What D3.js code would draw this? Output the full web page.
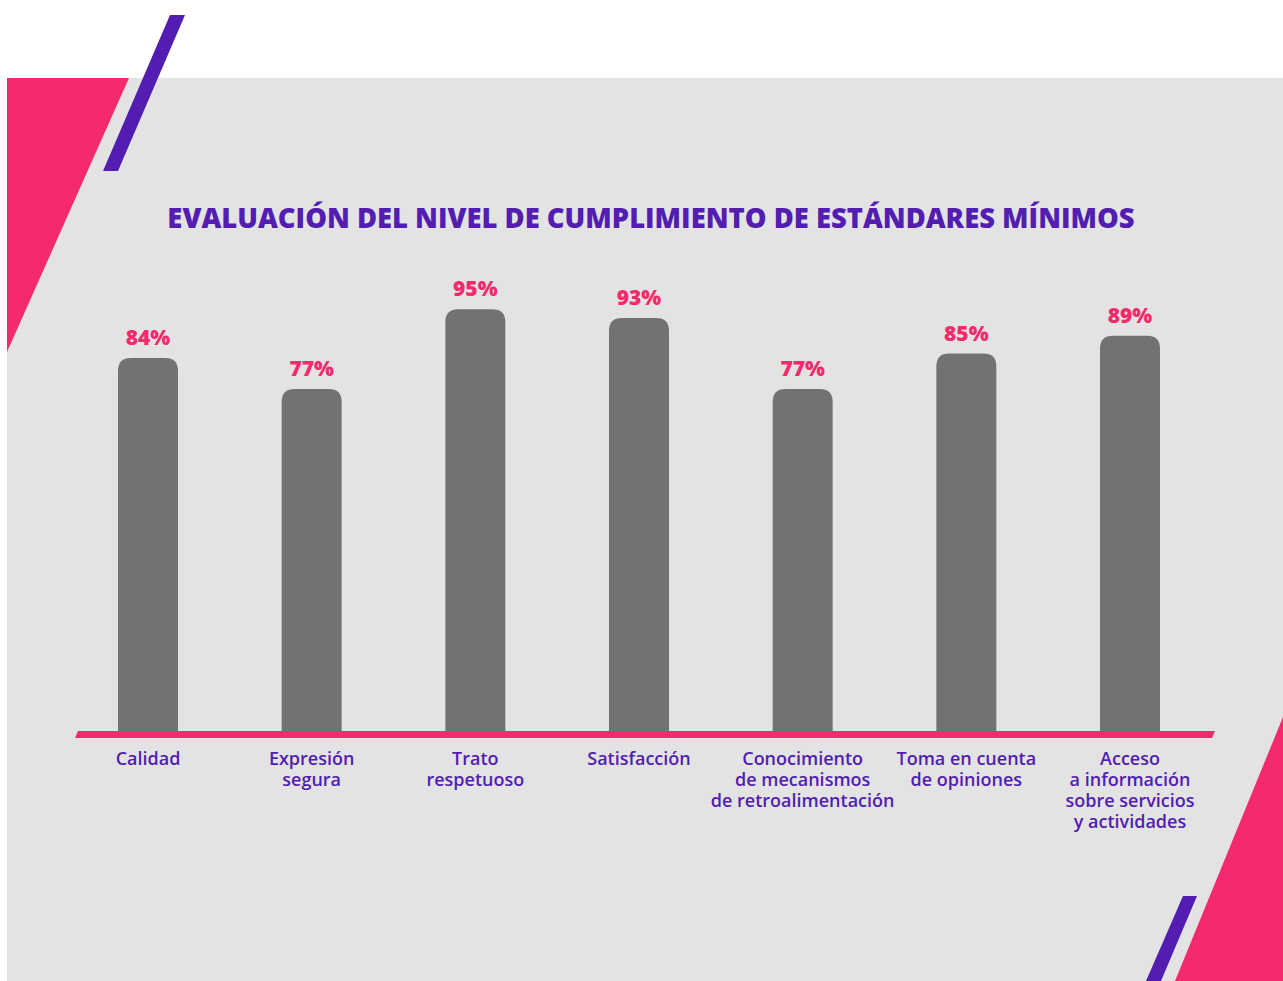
<!DOCTYPE html>
<html>
<head>
<meta charset="utf-8">
<script src="https://cdn.jsdelivr.net/npm/d3@7"></script>
<style>
  html, body { margin: 0; padding: 0; background: #fff; }
  svg { display: block; }
</style>
</head>
<body>
<div id="chart"></div>
<script>
const categories = [
  "Calidad",
  "Expresión\nsegura",
  "Trato\nrespetuoso",
  "Satisfacción",
  "Conocimiento\nde mecanismos\nde retroalimentación",
  "Toma en cuenta\nde opiniones",
  "Acceso\na información\nsobre servicios\ny actividades"
];
const values = [84, 77, 95, 93, 77, 85, 89];
const title = "EVALUACIÓN DEL NIVEL DE CUMPLIMIENTO DE ESTÁNDARES MÍNIMOS";

const width = 1283;
const height = 981;
const pink = "#f42a6c";
const purple = "#521db0";
const barColor = "#717273";
const baseY = 731;
const barW = 60;

const svg = d3.select("#chart")
  .append("svg")
  .attr("width", width)
  .attr("height", height);

// panel + decorations
svg.append("rect")
  .attr("x", 7).attr("y", 78)
  .attr("width", width - 7).attr("height", height - 78)
  .attr("fill", "#e3e3e3");

const poly = (pts, fill) => svg.append("polygon")
  .attr("points", pts.map(p => p.join(",")).join(" "))
  .attr("fill", fill);

poly([[7, 78], [129, 78], [7, 352]], pink);
poly([[170, 15], [185, 15], [118, 171], [103, 171]], purple);
poly([[1283, 717], [1283, 981], [1175, 981]], pink);
poly([[1183, 896], [1197, 896], [1161, 981], [1146, 981]], purple);

// title
svg.append("text")
  .attr("x", 651)
  .attr("y", 228)
  .attr("text-anchor", "middle")
  .attr("font-family", "Open Sans, sans-serif")
  .attr("font-weight", 800)
  .attr("font-size", 27.4)
  .attr("fill", purple)
  .text(title);

// scales
const x = d3.scalePoint()
  .domain(categories)
  .range([148, 1130]);

const y = d3.scaleLinear()
  .domain([0, 100])
  .range([baseY, baseY - 444]);

const r = 13;
function barPath(cx, v) {
  const x0 = cx - barW / 2, x1 = cx + barW / 2, top = y(v);
  return `M${x0},${baseY}V${top + r}Q${x0},${top} ${x0 + r},${top}` +
    `H${x1 - r}Q${x1},${top} ${x1},${top + r}V${baseY}Z`;
}

const data = categories.map((c, i) => ({ c, v: values[i] }));

svg.append("g")
  .selectAll("path")
  .data(data)
  .join("path")
  .attr("d", d => barPath(x(d.c), d.v))
  .attr("fill", barColor);

svg.append("g")
  .selectAll("text")
  .data(data)
  .join("text")
  .attr("x", d => x(d.c))
  .attr("y", d => y(d.v) - 13)
  .attr("text-anchor", "middle")
  .attr("font-family", "Open Sans, sans-serif")
  .attr("font-weight", 800)
  .attr("font-size", 21)
  .attr("fill", pink)
  .text(d => d.v + "%");

// axis line (slanted ends)
poly([[78, baseY], [1215, baseY], [1212, baseY + 7], [75, baseY + 7]], pink);

// category labels
const lab = svg.append("g")
  .selectAll("text")
  .data(data)
  .join("text")
  .attr("x", d => x(d.c))
  .attr("y", 765)
  .attr("text-anchor", "middle")
  .attr("font-family", "Open Sans, sans-serif")
  .attr("font-weight", 600)
  .attr("font-size", 18)
  .attr("fill", purple);

lab.selectAll("tspan")
  .data(d => d.c.split("\n"))
  .join("tspan")
  .attr("x", function() { return d3.select(this.parentNode).attr("x"); })
  .attr("dy", (d, i) => i === 0 ? 0 : 21)
  .text(d => d);
</script>
</body>
</html>
